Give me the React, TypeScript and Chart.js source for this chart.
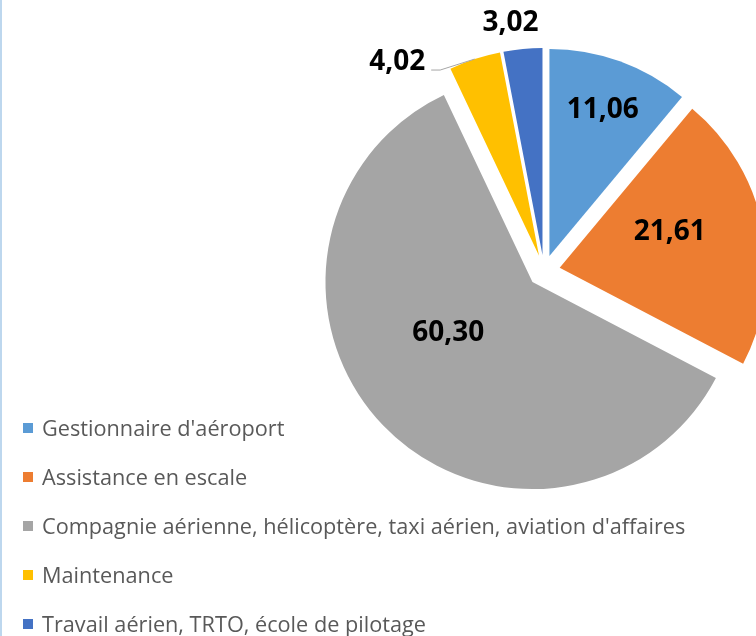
import React, { useEffect, useRef } from "react";
import { Chart, registerables } from "chart.js";

Chart.register(...registerables);

const categories = [
  "Gestionnaire d'aéroport",
  "Assistance en escale",
  "Compagnie aérienne, hélicoptère, taxi aérien, aviation d'affaires",
  "Maintenance",
  "Travail aérien, TRTO, école de pilotage",
];
const values = [11.06, 21.61, 60.3, 4.02, 3.02];
const valueLabels = ["11,06", "21,61", "60,30", "4,02", "3,02"];
const colors = ["#5B9BD5", "#ED7D31", "#A5A5A5", "#FFC000", "#4472C4"];

// label placement: radial fraction of radius and angular shift (deg)
const labelFrac = [0.75, 0.56, 0.474, 1.16, 1.13];
const labelShift = [0.2, -6.9, 12.9, -18.1, -2.4];
const leader = [false, false, false, true, false];

const EXPLODE = 16; // px each slice is pulled out along its mid angle
const RADIUS = 207;

const explodePlugin = {
  id: "explode",
  afterDatasetUpdate(chart: any, args: any) {
    const meta = chart.getDatasetMeta(args.index);
    meta.data.forEach((arc: any) => {
      const mid = (arc.startAngle + arc.endAngle) / 2;
      arc.x += Math.cos(mid) * EXPLODE;
      arc.y += Math.sin(mid) * EXPLODE;
    });
  },
};

const labelPlugin = {
  id: "valueLabels",
  afterDatasetsDraw(chart: any) {
    const ctx = chart.ctx;
    const meta = chart.getDatasetMeta(0);
    ctx.save();
    ctx.font = "bold 28px 'Open Sans'";
    ctx.textAlign = "center";
    ctx.textBaseline = "middle";
    meta.data.forEach((arc: any, i: number) => {
      const p = arc.getProps(["x", "y", "startAngle", "endAngle", "outerRadius"], true);
      const mid = (p.startAngle + p.endAngle) / 2;
      const cx = p.x;
      const cy = p.y;
      const a = mid + (labelShift[i] * Math.PI) / 180;
      const r = p.outerRadius * labelFrac[i];
      const lx = cx + Math.cos(a) * r;
      const ly = cy + Math.sin(a) * r;
      if (leader[i]) {
        const w = ctx.measureText(valueLabels[i]).width;
        const ex = cx + Math.cos(mid) * p.outerRadius;
        const ey = cy + Math.sin(mid) * p.outerRadius;
        ctx.strokeStyle = "#A6A6A6";
        ctx.lineWidth = 1;
        ctx.beginPath();
        ctx.moveTo(ex, ey);
        ctx.lineTo(lx + w / 2 + 15, ly + 8);
        ctx.lineTo(lx + w / 2 + 6, ly + 8);
        ctx.stroke();
      }
      ctx.fillStyle = "#000000";
      ctx.fillText(valueLabels[i], lx, ly);
    });
    ctx.restore();
  },
};

export default function App() {
  const ref = useRef<HTMLCanvasElement>(null);
  useEffect(() => {
    if (!ref.current) return;
    const chart = new Chart(ref.current, {
      type: "pie",
      data: {
        labels: categories,
        datasets: [
          {
            data: values,
            backgroundColor: colors,
            borderWidth: 0,
            offset: 0,
            hoverOffset: 0,
            radius: RADIUS,
            clip: false as any,
          } as any,
        ],
      },
      options: {
        responsive: false,
        animation: false,
        radius: RADIUS,
        layout: { padding: { left: 336, right: 4, top: 0, bottom: 94 } },
        plugins: {
          legend: { display: false },
          tooltip: { enabled: false },
        },
      } as any,
      plugins: [explodePlugin, labelPlugin],
    });
    return () => chart.destroy();
  }, []);

  return (
    <div
      style={{
        position: "fixed",
        left: 0,
        top: 0,
        width: 756,
        height: 636,
        overflow: "hidden",
        background: "#ffffff",
      }}
    >
      <canvas ref={ref} width={756} height={636} style={{ position: "absolute", left: 0, top: 0 }} />
      <div
        style={{
          position: "absolute",
          left: 0,
          top: 0,
          width: 2,
          height: 636,
          background: "#BDD7EE",
        }}
      />
      <div
        style={{
          position: "absolute",
          left: 23,
          top: 403,
          fontFamily: "'Open Sans', sans-serif",
          fontSize: 21.7,
          color: "#595959",
        }}
      >
        {categories.map((c, i) => (
          <div
            key={i}
            style={{ height: 49, display: "flex", alignItems: "center", whiteSpace: "nowrap" }}
          >
            <span
              style={{ width: 10, height: 10, background: colors[i], display: "inline-block", marginRight: 9, flexShrink: 0 }}
            />
            <span>{c}</span>
          </div>
        ))}
      </div>
    </div>
  );
}
